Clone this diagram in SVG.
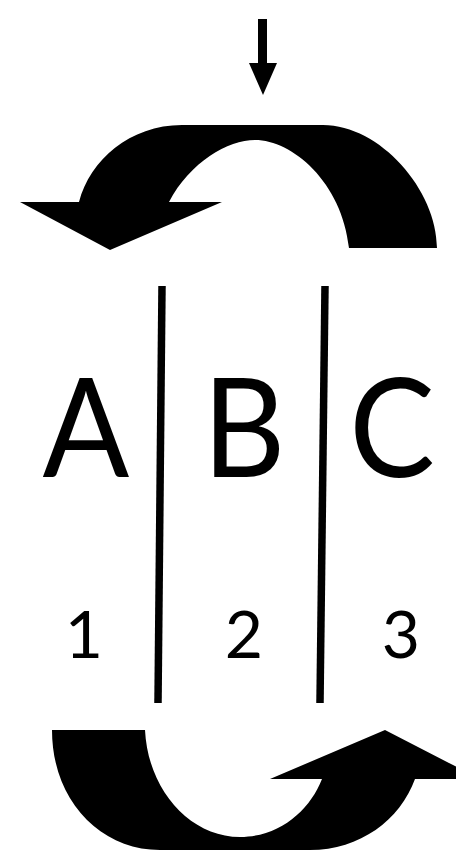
<svg xmlns="http://www.w3.org/2000/svg" width="456" height="853" viewBox="0 0 456 853">
<style>
.shape{fill:#000;stroke:none}
.div{stroke:#000;stroke-width:7.5;fill:none}
.letter{font-family:"Lato","Open Sans",sans-serif;font-size:138px;fill:#000;text-anchor:middle}
.num{font-family:"Lato","DejaVu Sans",sans-serif;font-size:66px;fill:#000;text-anchor:middle}
</style>
<rect width="456" height="853" fill="#fff"/>
<g id="connectors">
<path id="input-arrow" class="shape" d="M258,19 L267,19 L267,63 L277,63 L263,95 L249,63 L258,63 Z"/>
<path id="top-rotate-arrow" class="shape" d="M349,248 L437,248 C437,190 380,125 323,125 L182,125 C130,125 90,160 79,202 L20,202 L110,250 L222,202 L169,202 C190,162 228,140 255,140 C292,140 342,182 349,248 Z"/>
<path id="bottom-rotate-arrow" class="shape" d="M52,730 L145,730 C148,790 190,837 240,837 C280,837 310,810 322,779 L270,779 L385,730 L480,779 L415,779 C400,820 360,850 310,850 L160,850 C100,850 52,800 52,730 Z"/>
</g>
<g id="dividers">
<line class="div" x1="162" y1="286" x2="158" y2="703"/>
<line class="div" x1="325" y1="286" x2="320" y2="703"/>
</g>
<g id="node-a">
<text class="letter" transform="translate(86,477) scale(0.93,1)">A</text>
<text class="num" x="84" y="658">1</text>
</g>
<g id="node-b">
<text class="letter" transform="translate(244,477) scale(0.93,1)">B</text>
<text class="num" x="244" y="658">2</text>
</g>
<g id="node-c">
<text class="letter" transform="translate(392,477) scale(0.93,1)">C</text>
<text class="num" x="401" y="658">3</text>
</g>
</svg>
